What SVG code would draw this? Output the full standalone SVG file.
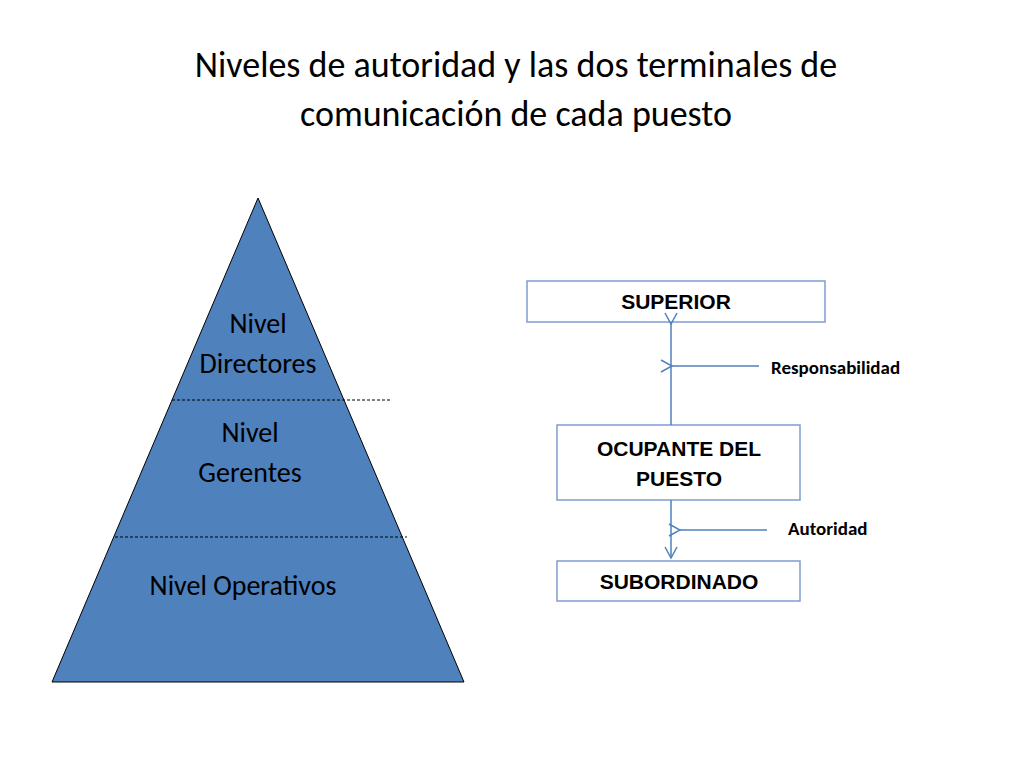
<svg xmlns="http://www.w3.org/2000/svg" width="1024" height="768" viewBox="0 0 1024 768">
<style>
.t{font-family:Calibri,Carlito,"Open Sans","Liberation Sans",sans-serif}
.lv{font-size:28px;fill:#000;text-anchor:middle}
.bx{fill:#fff;stroke:#7f9ccf;stroke-width:1.5}
.bl{font-family:"Liberation Sans",Arial,sans-serif;font-weight:bold;font-size:21px;text-anchor:middle}
.ln{stroke:#4f81bd;stroke-width:1.5;fill:none}
.lb{font-weight:bold;font-size:19px}
</style>
<defs>
<marker id="a" markerWidth="14" markerHeight="14" refX="1" refY="7" orient="auto" markerUnits="userSpaceOnUse">
<path d="M12,1 L1,7 L12,13" fill="none" stroke="#4f81bd" stroke-width="1.5"/>
</marker>
</defs>
<rect width="1024" height="768" fill="#fff"/>
<text class="t" x="516" y="77" font-size="36" text-anchor="middle">Niveles de autoridad y las dos terminales de</text>
<text class="t" x="516" y="126" font-size="36" text-anchor="middle">comunicación de cada puesto</text>
<g id="pyramid">
<polygon points="258,198 52,682 464,682" fill="#4f81bd" stroke="#000" stroke-width="1"/>
<line x1="172" y1="400" x2="390" y2="400" stroke="#000" stroke-dasharray="3,2" stroke-width="1"/>
<line x1="115" y1="537" x2="407" y2="537" stroke="#000" stroke-dasharray="3,2" stroke-width="1"/>
<text class="t lv" x="258" y="333">Nivel</text>
<text class="t lv" x="258" y="373">Directores</text>
<text class="t lv" x="250" y="442">Nivel</text>
<text class="t lv" x="250" y="482">Gerentes</text>
<text class="t lv" x="243" y="595">Nivel Operativos</text>
</g>
<g id="superior"><rect class="bx" x="527" y="281" width="298" height="41"/><text class="bl" x="676" y="309">SUPERIOR</text></g>
<g id="ocupante"><rect class="bx" x="557" y="425" width="243" height="75"/><text class="bl" x="679" y="456">OCUPANTE DEL</text><text class="bl" x="679" y="486">PUESTO</text></g>
<g id="subordinado"><rect class="bx" x="557" y="561" width="243" height="40"/><text class="bl" x="679" y="589">SUBORDINADO</text></g>
<g id="connectors">
<line class="ln" x1="671" y1="425" x2="671" y2="324" marker-end="url(#a)"/>
<line class="ln" x1="671" y1="500" x2="671" y2="558"/>
<path class="ln" d="M665,547 L671,558 L677,547"/>
<line class="ln" x1="759" y1="366" x2="672" y2="366" marker-end="url(#a)"/>
<line class="ln" x1="767" y1="530" x2="680" y2="530" marker-end="url(#a)"/>
</g>
<text class="t lb" x="771" y="374">Responsabilidad</text>
<text class="t lb" x="788" y="535">Autoridad</text>
</svg>
